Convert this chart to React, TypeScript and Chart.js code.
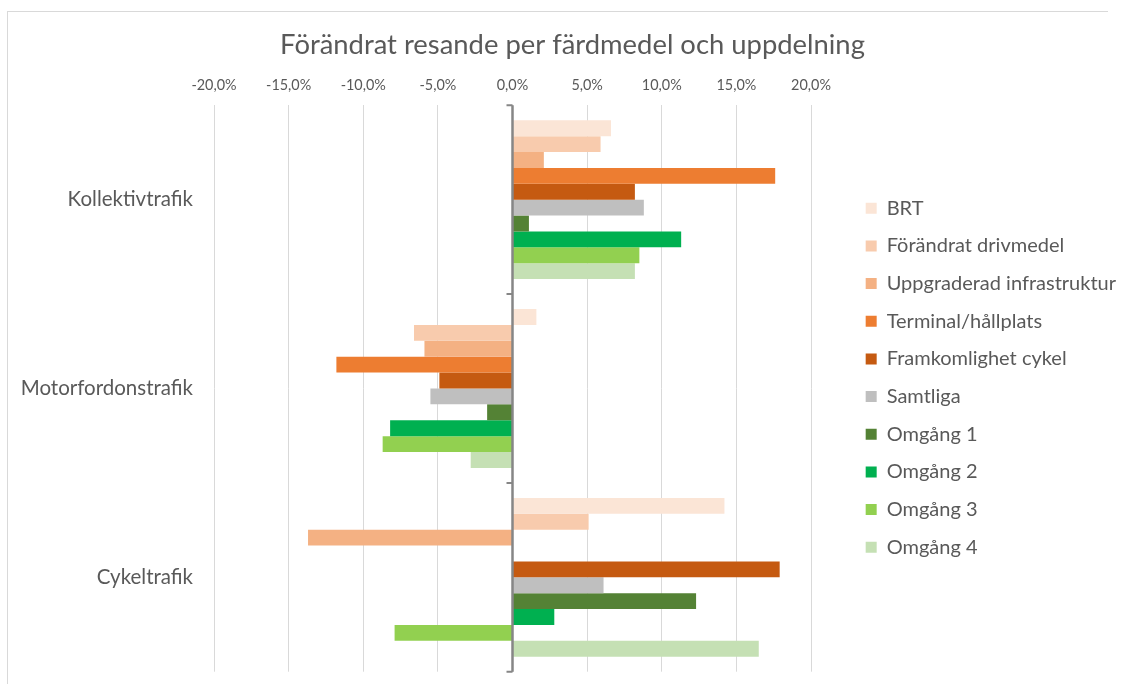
import React, { useEffect, useRef } from 'react';
import { Chart, registerables } from 'chart.js';

Chart.register(...registerables);

const categories = ['Kollektivtrafik', 'Motorfordonstrafik', 'Cykeltrafik'];

const seriesNames = [
  'BRT',
  'Förändrat drivmedel',
  'Uppgraderad infrastruktur',
  'Terminal/hållplats',
  'Framkomlighet cykel',
  'Samtliga',
  'Omgång 1',
  'Omgång 2',
  'Omgång 3',
  'Omgång 4',
];

const seriesColors = [
  '#fbe5d6',
  '#f8cbad',
  '#f4b183',
  '#ed7d31',
  '#c55a11',
  '#bfbfbf',
  '#548235',
  '#00b050',
  '#92d050',
  '#c5e0b4',
];

// values in percent, per category (Kollektivtrafik, Motorfordonstrafik, Cykeltrafik)
const brt = [6.6, 1.6, 14.2];
const forandratDrivmedel = [5.9, -6.6, 5.1];
const uppgraderadInfrastruktur = [2.1, -5.9, -13.7];
const terminalHallplats = [17.6, -11.8, null];
const framkomlighetCykel = [8.2, -4.9, 17.9];
const samtliga = [8.8, -5.5, 6.1];
const omgang1 = [1.1, -1.7, 12.3];
const omgang2 = [11.3, -8.2, 2.8];
const omgang3 = [8.5, -8.7, -7.9];
const omgang4 = [8.2, -2.8, 16.5];

const seriesValues = [
  brt,
  forandratDrivmedel,
  uppgraderadInfrastruktur,
  terminalHallplats,
  framkomlighetCykel,
  samtliga,
  omgang1,
  omgang2,
  omgang3,
  omgang4,
];

const xMin = -20;
const xMax = 20;
const xStep = 5;

const FONT = 'Lato, "Open Sans", sans-serif';
const TEXT = '#595959';

const categoryAxisPlugin = {
  id: 'categoryAxisLine',
  afterDatasetsDraw(chart: any) {
    const { ctx, chartArea, scales } = chart;
    const x = scales.x;
    const x0 = x.getPixelForValue(0);
    const n = categories.length;
    const band = (chartArea.bottom - chartArea.top) / n;
    ctx.save();
    ctx.strokeStyle = '#868686';
    ctx.lineWidth = 2.5;
    ctx.beginPath();
    ctx.moveTo(x0, chartArea.top);
    ctx.lineTo(x0, chartArea.bottom);
    ctx.stroke();
    ctx.lineWidth = 2;
    ctx.beginPath();
    for (let i = 0; i <= n; i++) {
      const yy = chartArea.top + i * band;
      ctx.moveTo(x0 - 6, yy);
      ctx.lineTo(x0, yy);
    }
    ctx.stroke();
    ctx.restore();
  },
};

export default function App() {
  const canvasRef = useRef<HTMLCanvasElement | null>(null);

  useEffect(() => {
    if (!canvasRef.current) return;
    const chart = new Chart(canvasRef.current, {
      type: 'bar',
      data: {
        labels: categories,
        datasets: seriesNames.map((name, i) => ({
          label: name,
          data: seriesValues[i] as any,
          backgroundColor: seriesColors[i],
          borderWidth: 0,
          categoryPercentage: 0.841,
          barPercentage: 1,
        })),
      },
      options: {
        indexAxis: 'y',
        animation: false,
        responsive: true,
        maintainAspectRatio: false,
        layout: { padding: { left: 19, right: 3, top: 0, bottom: 12 } },
        plugins: {
          title: {
            display: true,
            text: 'Förändrat resande per färdmedel och uppdelning',
            color: TEXT,
            font: { family: FONT, size: 27.4, weight: 'normal' },
            padding: { top: 28.6, bottom: 3.8 },
          },
          legend: {
            display: true,
            position: 'right',
            align: 'start',
            fullSize: false,
            maxWidth: 400,
            title: {
              display: true,
              text: '',
              font: { size: 10 },
              padding: { top: 63.3, bottom: 0 },
            },
            labels: {
              color: TEXT,
              font: { family: FONT, size: 20 },
              boxWidth: 11,
              boxHeight: 11,
              padding: 17.67,
            },
          },
          tooltip: { enabled: false },
        },
        scales: {
          x: {
            position: 'top',
            min: xMin,
            max: xMax,
            ticks: {
              stepSize: xStep,
              color: TEXT,
              font: { family: FONT, size: 14.4 },
              padding: 11.36,
              callback: (v: any) => Number(v).toFixed(1).replace('.', ',') + '%',
            },
            grid: {
              color: '#d9d9d9',
              lineWidth: 1,
              drawTicks: false,
            },
            border: { display: false },
          },
          y: {
            position: 'left',
            ticks: {
              color: TEXT,
              font: { family: FONT, size: 20.5 },
              padding: 0,
            },
            grid: { display: false, drawTicks: true, tickLength: 21 },
            border: { display: false },
            afterFit: (s: any) => {
              s.width = 195;
            },
          },
          yRightSpacer: {
            type: 'linear',
            position: 'right',
            display: true,
            ticks: { display: false },
            grid: { display: false, drawTicks: false },
            border: { display: false },
            afterFit: (s: any) => {
              s.width = 37;
            },
          },
        },
      },
      plugins: [categoryAxisPlugin],
    } as any);
    return () => chart.destroy();
  }, []);

  return (
    <div style={{ position: 'absolute', left: 0, top: 0, width: 1129, height: 684, background: '#ffffff' }}>
      <div
        style={{
          position: 'absolute',
          left: 7,
          top: 11,
          width: 1100,
          height: 672,
          borderLeft: '1px solid #d9d9d9',
          borderTop: '1px solid #d9d9d9',
        }}
      />
      <div style={{ position: 'absolute', left: 0, top: 0, width: 1129, height: 684 }}>
        <canvas ref={canvasRef} />
      </div>
    </div>
  );
}
